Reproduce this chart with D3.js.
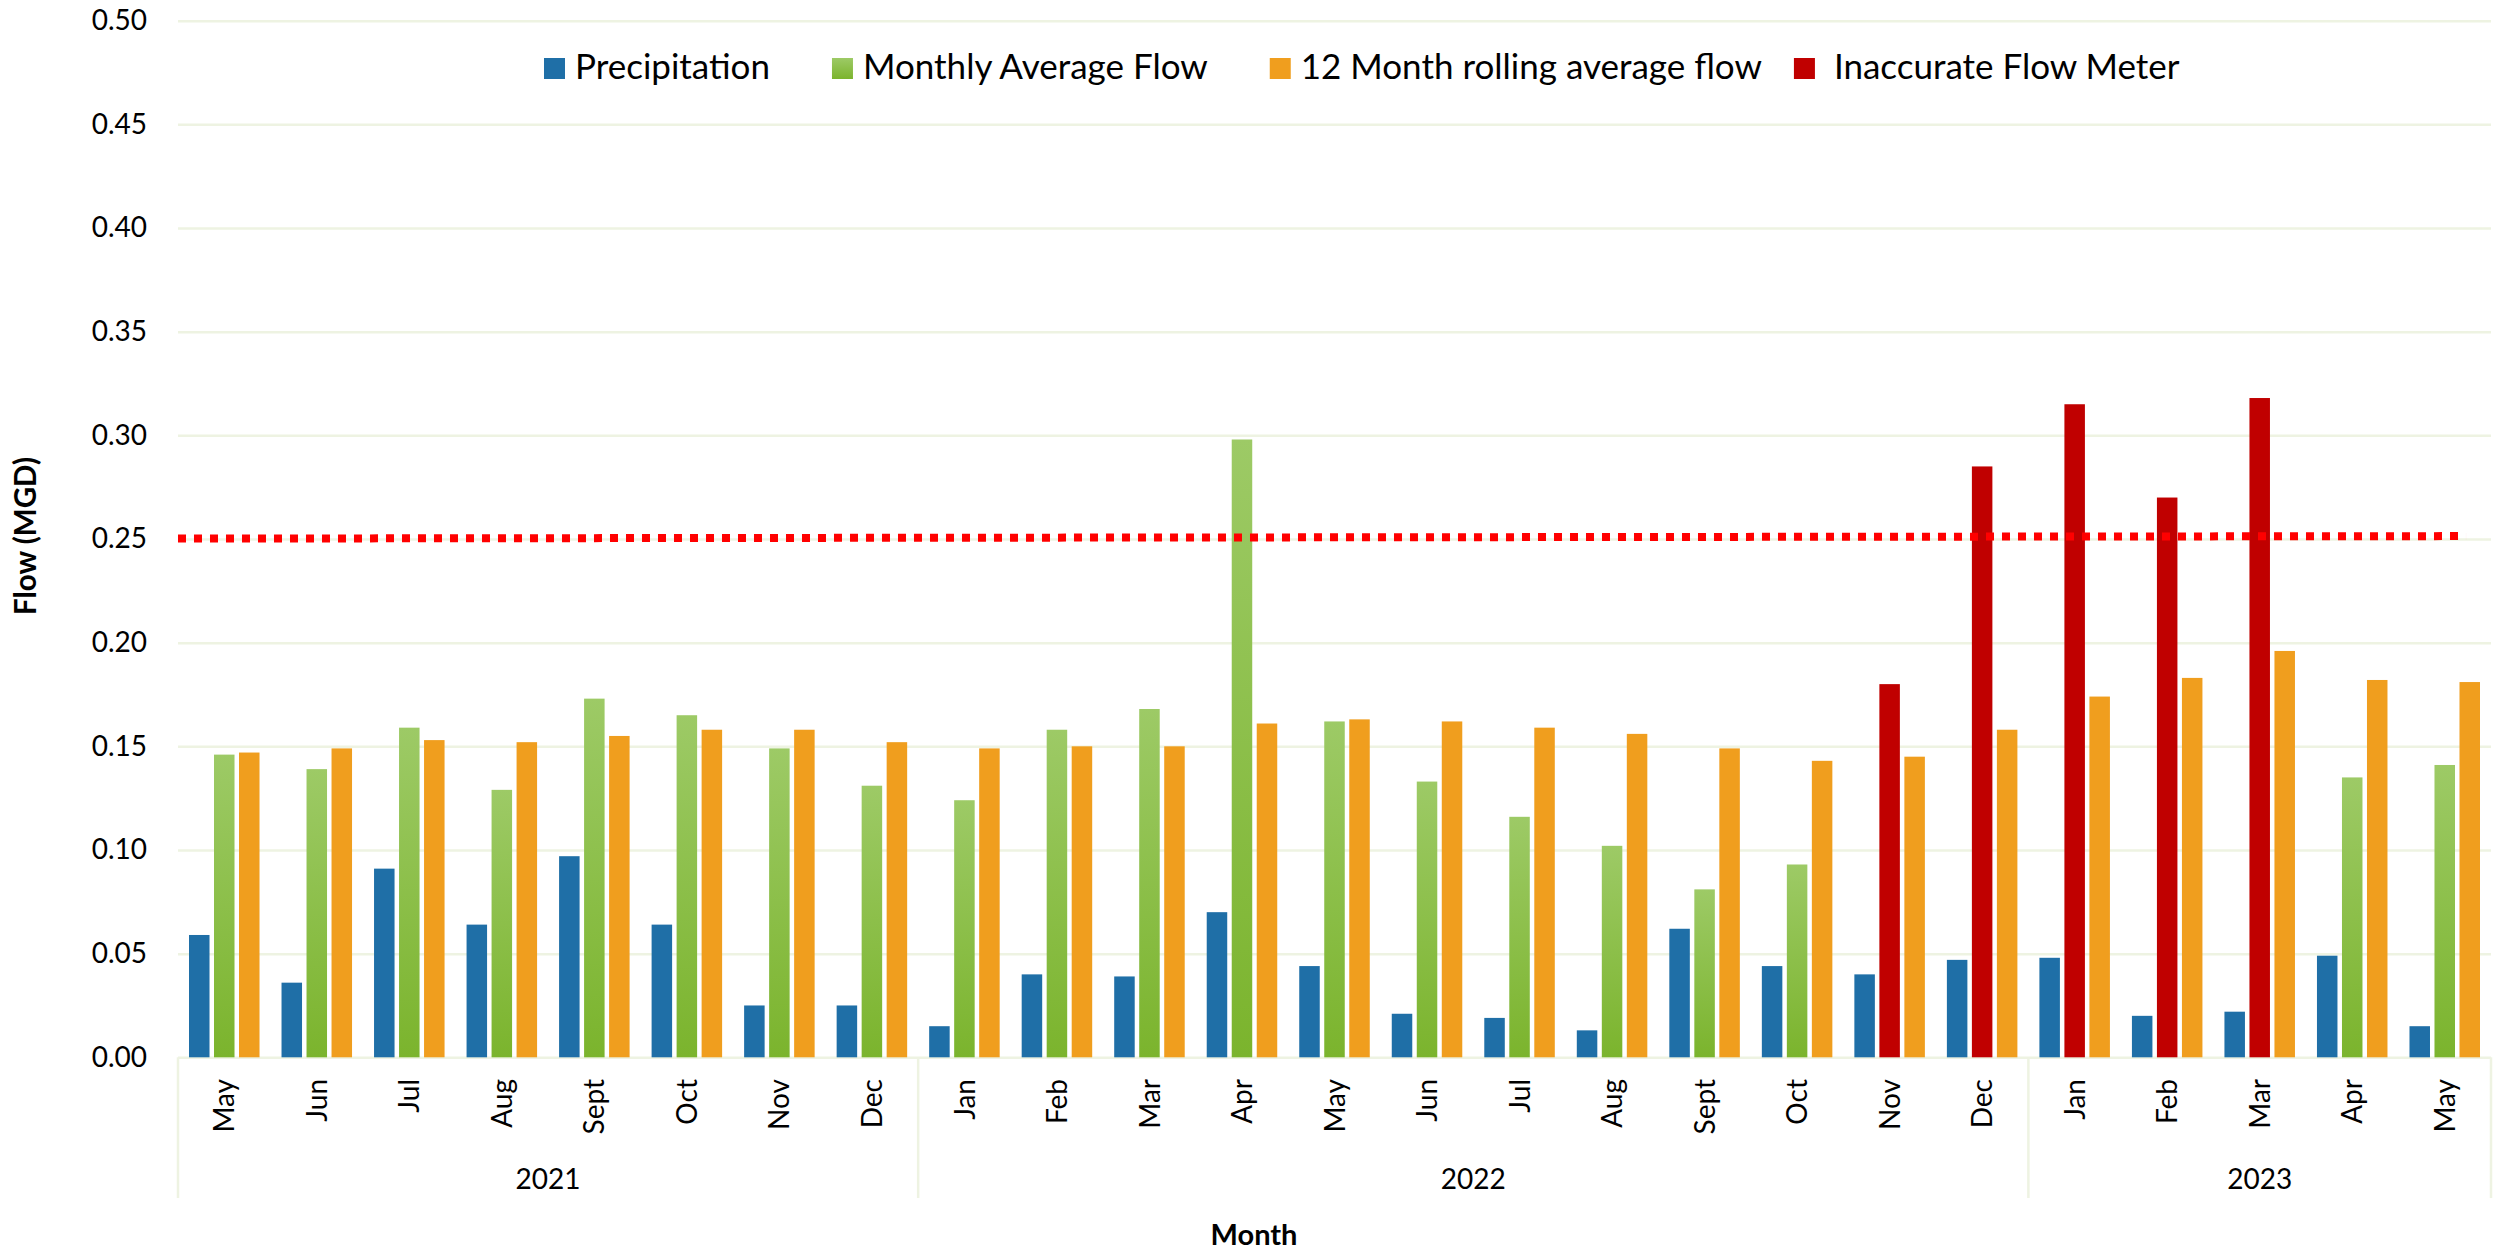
<!DOCTYPE html>
<html>
<head>
<meta charset="utf-8">
<script src="https://cdn.jsdelivr.net/npm/d3@7"></script>
<style>
  body { margin: 0; background: #fff; }
  text { font-family: Lato, "Open Sans", sans-serif; fill: #000; }
</style>
</head>
<body>
<div id="chart"></div>
<script>
// Chart values
const months = ["May","Jun","Jul","Aug","Sept","Oct","Nov","Dec",
  "Jan","Feb","Mar","Apr","May","Jun","Jul","Aug","Sept","Oct","Nov","Dec",
  "Jan","Feb","Mar","Apr","May"];
const yearLabels = ["2021", "2022", "2023"];
const yearMonthCounts = [8, 12, 5];

const precipitation = [0.059,0.036,0.091,0.064,0.097,0.064,0.025,0.025,
  0.015,0.040,0.039,0.070,0.044,0.021,0.019,0.013,0.062,0.044,0.040,0.047,
  0.048,0.020,0.022,0.049,0.015];
const monthlyAverageFlow = [0.146,0.139,0.159,0.129,0.173,0.165,0.149,0.131,
  0.124,0.158,0.168,0.298,0.162,0.133,0.116,0.102,0.081,0.093,null,null,
  null,null,null,0.135,0.141];
const inaccurateFlowMeter = [null,null,null,null,null,null,null,null,
  null,null,null,null,null,null,null,null,null,null,0.180,0.285,
  0.315,0.270,0.318,null,null];
const rollingAverageFlow = [0.147,0.149,0.153,0.152,0.155,0.158,0.158,0.152,
  0.149,0.150,0.150,0.161,0.163,0.162,0.159,0.156,0.149,0.143,0.145,0.158,
  0.174,0.183,0.196,0.182,0.181];

// limit line: position in month units, value in MGD
const limitPositions = [0, 24.73];
const limitValues = [0.2502, 0.2514];

const yTicks = [0, 0.05, 0.10, 0.15, 0.20, 0.25, 0.30, 0.35, 0.40, 0.45, 0.50];

const legendNames = ["Precipitation", "Monthly Average Flow", "12 Month rolling average flow", " Inaccurate Flow Meter"];
const legendKeys = ["precip", "monthly", "rolling", "inaccurate"];

// colours
const colors = { precip: "#1f6fa7", monthly: "url(#greenFill)", rolling: "#f09e1e", inaccurate: "#c00000" };
const gridColor = "#eef3e2";

const W = 2501, H = 1254;
const plot = { left: 178, right: 2491, top: 20.7, bottom: 1057.3 };

const svg = d3.select("#chart").append("svg")
  .attr("width", W).attr("height", H)
  .style("display", "block");

const defs = svg.append("defs");
const grad = defs.append("linearGradient").attr("id", "greenFill")
  .attr("x1", 0).attr("y1", 0).attr("x2", 0).attr("y2", 1);
grad.append("stop").attr("offset", "0%").attr("stop-color", "#9dca66");
grad.append("stop").attr("offset", "100%").attr("stop-color", "#7bb42d");

// scales
const x0 = d3.scaleBand().domain(d3.range(months.length))
  .range([plot.left, plot.right]).padding(0);
const x1 = d3.scaleBand().domain([0, 1, 2])
  .range([0, x0.bandwidth()]).paddingInner(0.18).paddingOuter(0.44);
const y = d3.scaleLinear().domain([0, 0.5]).range([plot.bottom, plot.top]);
const xPos = d3.scaleLinear().domain([0, months.length]).range([plot.left, plot.right]);

// y axis with grid
const yAxis = svg.append("g")
  .attr("transform", `translate(${plot.left},0)`)
  .call(d3.axisLeft(y).tickValues(yTicks).tickFormat(d3.format(".2f"))
    .tickSize(-(plot.right - plot.left)).tickPadding(31));
yAxis.select(".domain").remove();
yAxis.selectAll(".tick line").attr("stroke", gridColor).attr("stroke-width", 2.5);
yAxis.selectAll(".tick text").attr("font-size", 28).attr("fill", "#000");

// bars
const rows = months.map((m, i) => ({
  i,
  bars: [
    { slot: 0, key: "precip", v: precipitation[i] },
    { slot: 1, key: monthlyAverageFlow[i] != null ? "monthly" : "inaccurate",
      v: monthlyAverageFlow[i] != null ? monthlyAverageFlow[i] : inaccurateFlowMeter[i] },
    { slot: 2, key: "rolling", v: rollingAverageFlow[i] }
  ].filter(b => b.v != null)
}));

const groups = svg.append("g").selectAll("g").data(rows).join("g")
  .attr("transform", d => `translate(${x0(d.i)},0)`);
groups.selectAll("rect").data(d => d.bars).join("rect")
  .attr("x", b => x1(b.slot))
  .attr("width", x1.bandwidth())
  .attr("y", b => y(b.v))
  .attr("height", b => y(0) - y(b.v))
  .attr("fill", b => colors[b.key]);

// limit line (drawn over the bars)
const limitData = limitPositions.map((p, k) => [p, limitValues[k]]);
svg.append("path")
  .datum(limitData)
  .attr("d", d3.line().x(d => xPos(d[0])).y(d => y(d[1])))
  .attr("fill", "none")
  .attr("stroke", "#ff0000")
  .attr("stroke-width", 8)
  .attr("stroke-dasharray", "8,8");

// category axis: months, then years
const xAxis = svg.append("g");
xAxis.selectAll("text.month").data(months).join("text")
  .attr("class", "month")
  .attr("transform", (m, i) => `translate(${x0(i) + x0.bandwidth() / 2},1079) rotate(-90)`)
  .attr("text-anchor", "end")
  .attr("dy", "0.36em")
  .attr("font-size", 28)
  .text(m => m);

const yearStarts = yearMonthCounts.map((c, k) => d3.sum(yearMonthCounts.slice(0, k)));
const boundaries = yearStarts.concat([months.length]);
xAxis.selectAll("line.sep").data(boundaries).join("line")
  .attr("class", "sep")
  .attr("x1", b => xPos(b)).attr("x2", b => xPos(b))
  .attr("y1", plot.bottom).attr("y2", 1198)
  .attr("stroke", gridColor).attr("stroke-width", 2.5);
xAxis.selectAll("text.year").data(yearLabels).join("text")
  .attr("class", "year")
  .attr("x", (t, k) => xPos(yearStarts[k] + yearMonthCounts[k] / 2))
  .attr("y", 1189)
  .attr("text-anchor", "middle")
  .attr("font-size", 28)
  .text(t => t);

// axis titles
svg.append("text")
  .attr("x", 1254).attr("y", 1245)
  .attr("text-anchor", "middle")
  .attr("font-size", 29).attr("font-weight", "bold")
  .text("Month");
svg.append("text")
  .attr("transform", "translate(36,536) rotate(-90)")
  .attr("text-anchor", "middle")
  .attr("font-size", 29.5).attr("font-weight", "bold")
  .text("Flow (MGD)");

// legend, laid out from measured text widths
// space after each entry (last entry's name carries its own leading space)
const legendGaps = [62, 62, 32, 0];
const legend = svg.append("g").attr("transform", "translate(544,0)");
const items = legend.selectAll("g").data(legendNames).join("g");
items.append("rect")
  .attr("width", 21).attr("height", 21).attr("y", 58)
  .attr("fill", (n, k) => colors[legendKeys[k]]);
items.append("text")
  .attr("x", 31).attr("y", 79)
  .attr("font-size", 35)
  .attr("xml:space", "preserve")
  .style("white-space", "pre")
  .text(n => n);
let cursor = 0;
items.each(function (n, k) {
  const g = d3.select(this);
  g.attr("transform", `translate(${cursor},0)`);
  cursor += 31 + g.select("text").node().getComputedTextLength() + legendGaps[k];
});
</script>
</body>
</html>
